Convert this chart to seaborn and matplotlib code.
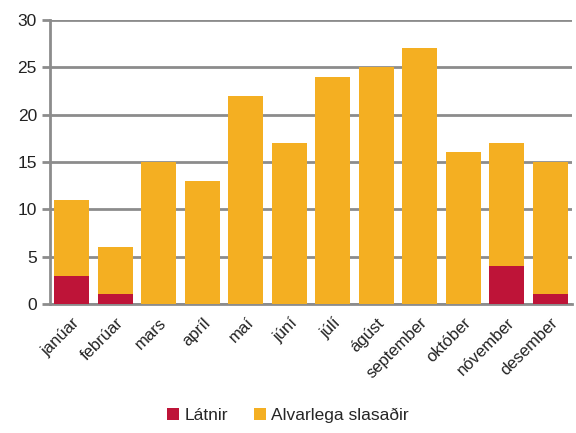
import matplotlib
matplotlib.use("Agg")
import matplotlib.pyplot as plt
import seaborn as sns
import pandas as pd
import numpy as np

# Data
months = ["janúar", "febrúar", "mars", "apríl", "maí", "júní",
          "júlí", "ágúst", "september", "október", "nóvember", "desember"]
latnir = [3, 1, 0, 0, 0, 0, 0, 0, 0, 0, 4, 1]
slasadir = [8, 5, 15, 13, 22, 17, 24, 25, 27, 16, 13, 14]

red = "#BE1438"
orange = "#F4AF22"
grey = "#8C8C8C"

df = pd.DataFrame({"month": months, "latnir": latnir, "slasadir": slasadir})
df["total"] = df["latnir"] + df["slasadir"]

sns.set_style("white")
plt.rcParams["font.family"] = ["Liberation Sans", "DejaVu Sans"]

fig = plt.figure(figsize=(5.76, 4.33), dpi=100)
ax = fig.add_axes([0.087, 0.298, 0.906, 0.656])

sns.barplot(data=df, x="month", y="total", color=orange, width=0.8,
            saturation=1, ax=ax, label="Alvarlega slasaðir", zorder=3,
            linewidth=0, edgecolor="none")
sns.barplot(data=df, x="month", y="latnir", color=red, width=0.8,
            saturation=1, ax=ax, label="Látnir", zorder=4,
            linewidth=0, edgecolor="none")

ax.set_ylim(0, 30)
ax.set_xlim(-0.5, len(months) - 0.5)
ax.set_yticks(range(0, 31, 5))
ax.yaxis.grid(True, color=grey, linewidth=2, zorder=0)
ax.set_axisbelow(True)
ax.set_xlabel("")
ax.set_ylabel("")

for s in ["top", "right"]:
    ax.spines[s].set_visible(False)
for s in ["left", "bottom"]:
    ax.spines[s].set_color(grey)
    ax.spines[s].set_linewidth(2)

ax.set_xticks(np.arange(len(months)))
ax.set_xticklabels(months, rotation=45, ha="right", rotation_mode="anchor",
                   fontsize=12, color="#222222")
ax.tick_params(axis="x", which="major", length=0, pad=8)
ax.set_xticks(np.arange(-0.5, len(months), 1), minor=True)
ax.tick_params(axis="x", which="minor", length=6, width=2, color=grey)
ax.tick_params(axis="y", length=6, width=2, color=grey, labelsize=12.5,
               labelcolor="#222222", left=True)

handles, labels = ax.get_legend_handles_labels()
order = [labels.index("Látnir"), labels.index("Alvarlega slasaðir")]
fig.legend([handles[i] for i in order], [labels[i] for i in order],
           loc="center", bbox_to_anchor=(0.5, 0.04), ncol=2, frameon=False,
           fontsize=12.5, handlelength=0.7, handleheight=0.7, handletextpad=0.3,
           columnspacing=1.5)
if ax.get_legend() is not None:
    ax.get_legend().remove()

fig.savefig("out.png", dpi=100)
